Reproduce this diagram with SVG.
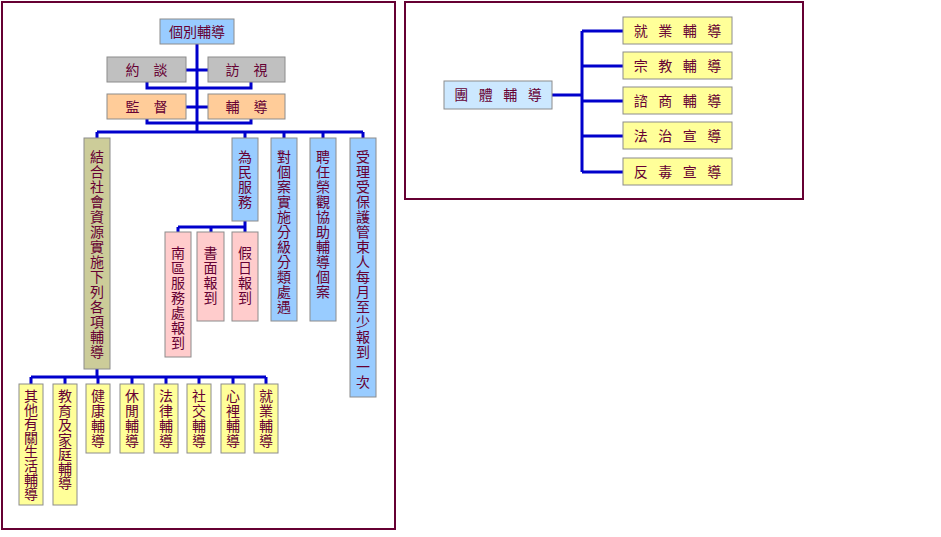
<svg xmlns="http://www.w3.org/2000/svg" width="941" height="537" viewBox="0 0 941 537">
<style>
  text { font-family: "Noto Sans CJK TC", "Noto Sans CJK SC", sans-serif; font-size: 14px; fill: #660033; text-anchor: middle; }
  .box { stroke: #8c8c8c; stroke-width: 1; }
  .blue { fill: #99ccff; }
  .gray { fill: #c0c0c0; }
  .orange { fill: #ffcc99; }
  .khaki { fill: #cccc99; }
  .pink { fill: #ffcccc; }
  .yellow { fill: #ffff99; }
  .lblue { fill: #cce8ff; }
  .frame { fill: none; stroke: #660033; stroke-width: 2; }
  #connectors path { fill: none; stroke: #0000cc; stroke-width: 3; }
</style>
<rect width="941" height="537" fill="#ffffff"/>
<rect class="frame" x="2" y="2" width="393" height="527"/>
<rect class="frame" x="405" y="2" width="398" height="197"/>

<g id="connectors">
  <path d="M197 44 V132"/>
  <path d="M186 70 H208"/>
  <path d="M147 82 V88 H251 V82"/>
  <path d="M186 107 H208"/>
  <path d="M147 119 V123 H251 V119"/>
  <path d="M97 132 H363"/>
  <path d="M97 132 V138 M245 132 V138 M284 132 V138 M323 132 V138 M363 132 V138"/>
  <path d="M245 221 V227 M178 227 H245 M178 227 V232 M211 227 V232 M245 227 V232"/>
  <path d="M97 369 V377 M31 377 H266"/>
  <path d="M31 377 V384 M65 377 V384 M98 377 V384 M132 377 V384 M166 377 V384 M199 377 V384 M233 377 V384 M266 377 V384"/>
  <path d="M552 95 H582 M582 31 V172"/>
  <path d="M582 31 H623 M582 66 H623 M582 101 H623 M582 136 H623 M582 172 H623"/>
</g>

<g id="n-gebie">
  <rect class="box blue" x="160" y="19" width="74" height="25"/>
  <text x="197" y="37">個別輔導</text>
</g>
<g id="n-yuetan">
  <rect class="box gray" x="107" y="57" width="79" height="25"/>
  <text x="146.5" y="75">約　談</text>
</g>
<g id="n-fangshi">
  <rect class="box gray" x="208" y="57" width="77" height="25"/>
  <text x="246.5" y="75">訪　視</text>
</g>
<g id="n-jiandu">
  <rect class="box orange" x="107" y="94" width="79" height="25"/>
  <text x="146.5" y="112">監　督</text>
</g>
<g id="n-fudao">
  <rect class="box orange" x="208" y="94" width="77" height="25"/>
  <text x="246.5" y="112">輔　導</text>
</g>

<g id="n-jiehe">
  <rect class="box khaki" x="84" y="138" width="26" height="231"/>
  <text x="97 97 97 97 97 97 97 97 97 97 97 97 97 97" y="162 177 192 207 222 237 252 267 282 297 312 327 342 357">結合社會資源實施下列各項輔導</text>
</g>
<g id="n-weimin">
  <rect class="box blue" x="232" y="138" width="26" height="83"/>
  <text x="245 245 245 245" y="162 177 192 207">為民服務</text>
</g>
<g id="n-duigean">
  <rect class="box blue" x="271" y="138" width="26" height="183"/>
  <text x="284 284 284 284 284 284 284 284 284 284 284" y="162 177 192 207 222 237 252 267 282 297 312">對個案實施分級分類處遇</text>
</g>
<g id="n-pinren">
  <rect class="box blue" x="310" y="138" width="26" height="183"/>
  <text x="323 323 323 323 323 323 323 323 323 323" y="162 177 192 207 222 237 252 267 282 297">聘任榮觀協助輔導個案</text>
</g>
<g id="n-shouli">
  <rect class="box blue" x="350" y="138" width="26" height="259"/>
  <text x="363 363 363 363 363 363 363 363 363 363 363 363 363 363 363 363" y="162 177 192 207 222 237 252 267 282 297 312 327 342 357 372 387">受理受保護管束人每月至少報到一次</text>
</g>

<g id="n-nanqu">
  <rect class="box pink" x="165" y="232" width="26" height="125"/>
  <text x="178 178 178 178 178 178 178" y="258 273 288 303 318 333 348">南區服務處報到</text>
</g>
<g id="n-shumian">
  <rect class="box pink" x="197" y="232" width="27" height="89"/>
  <text x="210.5 210.5 210.5 210.5" y="258 273 288 303">書面報到</text>
</g>
<g id="n-jiari">
  <rect class="box pink" x="232" y="232" width="26" height="89"/>
  <text x="245 245 245 245" y="258 273 288 303">假日報到</text>
</g>

<g id="n-qita">
  <rect class="box yellow" x="19" y="384" width="24" height="121"/>
  <text x="31 31 31 31 31 31 31 31" y="401 415 429 443 457 471 485 499">其他有關生活輔導</text>
</g>
<g id="n-jiaoyu">
  <rect class="box yellow" x="53" y="384" width="24" height="121"/>
  <text x="65 65 65 65 65 65 65" y="401 415.5 430 444.5 459 473.5 488">教育及家庭輔導</text>
</g>
<g id="n-jiankang">
  <rect class="box yellow" x="86" y="384" width="24" height="69"/>
  <text x="98 98 98 98" y="401 416 431 446">健康輔導</text>
</g>
<g id="n-xiuxian">
  <rect class="box yellow" x="120" y="384" width="24" height="69"/>
  <text x="132 132 132 132" y="401 416 431 446">休閒輔導</text>
</g>
<g id="n-falv">
  <rect class="box yellow" x="154" y="384" width="24" height="69"/>
  <text x="166 166 166 166" y="401 416 431 446">法律輔導</text>
</g>
<g id="n-shejiao">
  <rect class="box yellow" x="187" y="384" width="24" height="69"/>
  <text x="199 199 199 199" y="401 416 431 446">社交輔導</text>
</g>
<g id="n-xinli">
  <rect class="box yellow" x="221" y="384" width="24" height="69"/>
  <text x="233 233 233 233" y="401 416 431 446">心裡輔導</text>
</g>
<g id="n-jiuye">
  <rect class="box yellow" x="254" y="384" width="24" height="69"/>
  <text x="266 266 266 266" y="401 416 431 446">就業輔導</text>
</g>

<g id="n-tuanti">
  <rect class="box lblue" x="444" y="81" width="108" height="28"/>
  <text x="461.25 485.75 510.25 534.75" y="100">團體輔導</text>
</g>
<g id="n-r-jiuye">
  <rect class="box yellow" x="623" y="17" width="109" height="27"/>
  <text x="640.75 665.25 689.75 714.25" y="35.5">就業輔導</text>
</g>
<g id="n-r-zongjiao">
  <rect class="box yellow" x="623" y="52" width="109" height="27"/>
  <text x="640.75 665.25 689.75 714.25" y="70.5">宗教輔導</text>
</g>
<g id="n-r-zishang">
  <rect class="box yellow" x="623" y="87" width="109" height="27"/>
  <text x="640.75 665.25 689.75 714.25" y="105.5">諮商輔導</text>
</g>
<g id="n-r-fazhi">
  <rect class="box yellow" x="623" y="122" width="109" height="27"/>
  <text x="640.75 665.25 689.75 714.25" y="140.5">法治宣導</text>
</g>
<g id="n-r-fandu">
  <rect class="box yellow" x="623" y="158" width="109" height="27"/>
  <text x="640.75 665.25 689.75 714.25" y="176.5">反毒宣導</text>
</g>
</svg>
